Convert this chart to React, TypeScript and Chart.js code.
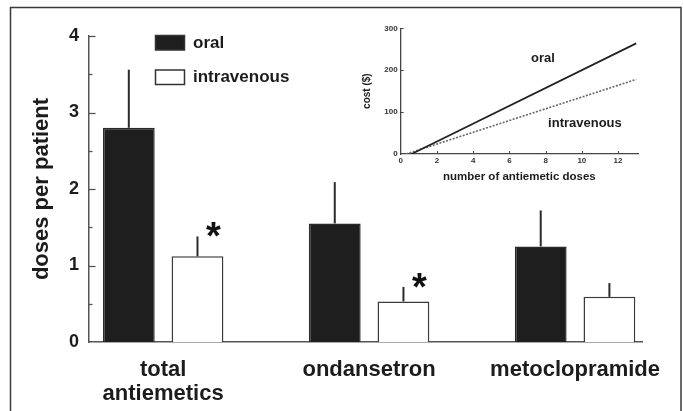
import React, { useEffect, useRef } from 'react';
import { Chart, registerables } from 'chart.js';
Chart.register(...registerables);

// ---------- data ----------
const categories: string[][] = [['total', 'antiemetics'], ['ondansetron'], ['metoclopramide']];
const oralMeans = [2.8, 1.55, 1.25];
const oralErrors = [0.76, 0.54, 0.47];
const ivMeans = [1.12, 0.53, 0.59];
const ivErrors = [0.26, 0.19, 0.18];
const ivSignificant = [true, true, false];
const seriesLabels = ['oral', 'intravenous'];

// inset: cost vs number of doses
const oralDoseX = [0.6, 13];
const oralCost = [0, 264];
const ivDoseX = [0.3, 13];
const ivCost = [0, 178];
const insetNotes = [
  { text: 'oral', x: 7.85, y: 229 },
  { text: 'intravenous', x: 10.17, y: 72 },
];

const FONT = '"Liberation Sans", Arial, Helvetica, sans-serif';
const INK = '#1c1c1c';

const mainDecor = {
  id: 'mainDecor',
  beforeDraw(chart: any) {
    const { ctx, width, height } = chart;
    ctx.save();
    ctx.fillStyle = '#fff';
    ctx.fillRect(0, 0, width, height);
    ctx.strokeStyle = '#3a3a3a';
    ctx.lineWidth = 1.5;
    ctx.beginPath();
    ctx.moveTo(10.5, height + 2);
    ctx.lineTo(10.5, 7.5);
    ctx.lineTo(681, 7.5);
    ctx.lineTo(681, height + 2);
    ctx.stroke();
    ctx.restore();
  },
  afterDatasetsDraw(chart: any) {
    const { ctx, chartArea } = chart;
    const y = chart.scales.y;
    ctx.save();
    // inward ticks on y axis
    ctx.strokeStyle = '#555';
    ctx.lineWidth = 1.3;
    for (let v = 0.5; v <= 4.001; v += 0.5) {
      const py = Math.round(y.getPixelForValue(v)) + 0.5;
      const len = Math.abs(v - Math.round(v)) < 1e-6 ? 6.5 : 3.5;
      ctx.beginPath();
      ctx.moveTo(chartArea.left, py);
      ctx.lineTo(chartArea.left + len, py);
      ctx.stroke();
    }
    // error bars
    const means = [oralMeans, ivMeans];
    const errs = [oralErrors, ivErrors];
    ctx.strokeStyle = '#2a2a2a';
    ctx.lineWidth = 2;
    [0, 1].forEach((d) => {
      const meta = chart.getDatasetMeta(d);
      meta.data.forEach((el: any, i: number) => {
        const top = y.getPixelForValue(means[d][i] + errs[d][i]);
        ctx.beginPath();
        ctx.moveTo(el.x, el.y);
        ctx.lineTo(el.x, top);
        ctx.stroke();
        if (d === 1 && ivSignificant[i]) {
          ctx.fillStyle = '#111';
          ctx.font = `bold 38px ${FONT}`;
          ctx.textAlign = 'center';
          ctx.textBaseline = 'alphabetic';
          ctx.fillText('*', el.x + 16, top - 9 + 22);
        }
      });
    });
    // legend
    chart.data.datasets.forEach((ds: any, i: number) => {
      const y0 = 35.5 + i * 34.5;
      ctx.fillStyle = ds.backgroundColor;
      ctx.fillRect(155.5, y0, 29, 14.5);
      ctx.strokeStyle = '#333';
      ctx.lineWidth = 1.5;
      ctx.strokeRect(155.5, y0, 29, 14.5);
      ctx.fillStyle = INK;
      ctx.font = `bold 17px ${FONT}`;
      ctx.textAlign = 'left';
      ctx.textBaseline = 'middle';
      ctx.fillText(ds.label, 193, y0 + 7.5);
    });
    ctx.restore();
  },
};

const insetDecor = {
  id: 'insetDecor',
  afterDatasetsDraw(chart: any) {
    const { ctx, chartArea } = chart;
    const x = chart.scales.x;
    const y = chart.scales.y;
    ctx.save();
    ctx.strokeStyle = '#444';
    ctx.lineWidth = 1;
    [100, 200, 300].forEach((v) => {
      const py = Math.round(y.getPixelForValue(v)) + 0.5;
      ctx.beginPath();
      ctx.moveTo(chartArea.left, py);
      ctx.lineTo(chartArea.left + 3, py);
      ctx.stroke();
    });
    [2, 4, 6, 8, 10, 12].forEach((v) => {
      const px = Math.round(x.getPixelForValue(v)) + 0.5;
      ctx.beginPath();
      ctx.moveTo(px, chartArea.bottom);
      ctx.lineTo(px, chartArea.bottom - 3);
      ctx.stroke();
    });
    ctx.fillStyle = INK;
    ctx.font = `bold 13px ${FONT}`;
    ctx.textAlign = 'center';
    ctx.textBaseline = 'middle';
    insetNotes.forEach((n) => {
      ctx.fillText(n.text, x.getPixelForValue(n.x), y.getPixelForValue(n.y));
    });
    ctx.restore();
  },
};

function MainChart() {
  const ref = useRef<HTMLCanvasElement>(null);
  useEffect(() => {
    const chart = new Chart(ref.current as HTMLCanvasElement, {
      type: 'bar',
      data: {
        datasets: [
          {
            label: seriesLabels[0],
            data: oralMeans.map((v, i) => ({ x: i, y: v })),
            backgroundColor: '#1e1e1e',
            borderColor: '#2a2a2a',
            borderWidth: 1.5,
            categoryPercentage: 0.667,
            barPercentage: 0.754,
          },
          {
            label: seriesLabels[1],
            data: ivMeans.map((v, i) => ({ x: i, y: v })),
            backgroundColor: '#ffffff',
            borderColor: '#3a3a3a',
            borderWidth: 1.5,
            categoryPercentage: 0.667,
            barPercentage: 0.754,
          },
        ],
      } as any,
      options: {
        animation: false,
        responsive: false,
        maintainAspectRatio: false,
        layout: { padding: { top: 36, right: 42, bottom: 0, left: 0 } },
        plugins: { legend: { display: false }, tooltip: { enabled: false } },
        scales: {
          x: {
            type: 'linear',
            min: -0.36,
            max: 2.325,
            offset: false,
            grid: { display: false, drawTicks: false, offset: false, tickLength: 0 },
            border: { display: true, color: '#555', width: 1.5 },
            afterBuildTicks: (s: any) => {
              s.ticks = categories.map((_, i) => ({ value: i }));
            },
            afterFit: (s: any) => {
              s.height = 69;
            },
            ticks: {
              autoSkip: false,
              maxRotation: 0,
              padding: 16,
              color: INK,
              font: { family: FONT, size: 22, weight: 'bold', lineHeight: 1.1 },
              callback: (v: any) => categories[v] ?? '',
            },
          },
          y: {
            min: 0,
            max: 4,
            grid: { display: false, drawTicks: false, tickLength: 0 },
            border: { display: true, color: '#555', width: 1.5 },
            ticks: {
              stepSize: 1,
              padding: 10,
              color: INK,
              font: { family: FONT, size: 18, weight: 'bold' },
            },
            title: {
              display: true,
              text: 'doses per patient',
              color: INK,
              font: { family: FONT, size: 22, weight: 'bold' },
              padding: { top: 28.5, bottom: 0 },
            },
            afterFit: (s: any) => {
              s.width = 89;
            },
          },
        },
      } as any,
      plugins: [mainDecor],
    });
    return () => chart.destroy();
  }, []);
  return <canvas ref={ref} width={684} height={411} style={{ display: 'block', position: 'absolute', left: 0, top: 0 }} />;
}

function InsetChart() {
  const ref = useRef<HTMLCanvasElement>(null);
  useEffect(() => {
    const chart = new Chart(ref.current as HTMLCanvasElement, {
      type: 'line',
      data: {
        datasets: [
          {
            label: seriesLabels[0],
            data: oralDoseX.map((x, i) => ({ x, y: oralCost[i] })),
            borderColor: '#222',
            borderWidth: 1.7,
            pointRadius: 0,
            fill: false,
          },
          {
            label: seriesLabels[1],
            data: ivDoseX.map((x, i) => ({ x, y: ivCost[i] })),
            borderColor: '#666',
            borderWidth: 1.6,
            borderDash: [2, 1.5],
            pointRadius: 0,
            fill: false,
          },
        ],
      } as any,
      options: {
        animation: false,
        responsive: false,
        maintainAspectRatio: false,
        layout: { padding: { top: 10.3, right: 7, bottom: 0, left: 0 } },
        plugins: { legend: { display: false }, tooltip: { enabled: false } },
        scales: {
          x: {
            type: 'linear',
            min: 0,
            max: 13.1,
            offset: false,
            grid: { display: false, drawTicks: false, tickLength: 0 },
            border: { display: true, color: '#444', width: 1.3 },
            ticks: {
              stepSize: 2,
              includeBounds: false,
              padding: 2,
              maxRotation: 0,
              color: '#333',
              font: { family: FONT, size: 8, weight: 'bold' },
            },
            title: {
              display: true,
              text: 'number of antiemetic doses',
              color: INK,
              font: { family: FONT, size: 11.5, weight: 'bold' },
              padding: { top: 0, bottom: 9 },
            },
            afterFit: (s: any) => {
              s.height = 39;
            },
          },
          y: {
            min: 0,
            max: 300,
            grid: { display: false, drawTicks: false, tickLength: 0 },
            border: { display: true, color: '#444', width: 1.3 },
            ticks: {
              stepSize: 100,
              padding: 3,
              color: '#333',
              font: { family: FONT, size: 8, weight: 'bold' },
            },
            title: {
              display: true,
              text: 'cost ($)',
              color: INK,
              font: { family: FONT, size: 10, weight: 'bold' },
              padding: { top: 6, bottom: 0 },
            },
            afterFit: (s: any) => {
              s.width = 45.7;
            },
          },
        },
      } as any,
      plugins: [insetDecor],
    });
    return () => chart.destroy();
  }, []);
  return <canvas ref={ref} width={290} height={175} style={{ display: 'block', position: 'absolute', left: 355, top: 18 }} />;
}

export default function App() {
  return (
    <div style={{ position: 'fixed', left: 0, top: 0, width: 684, height: 411, background: '#fff', overflow: 'hidden' }}>
      <MainChart />
      <InsetChart />
    </div>
  );
}
